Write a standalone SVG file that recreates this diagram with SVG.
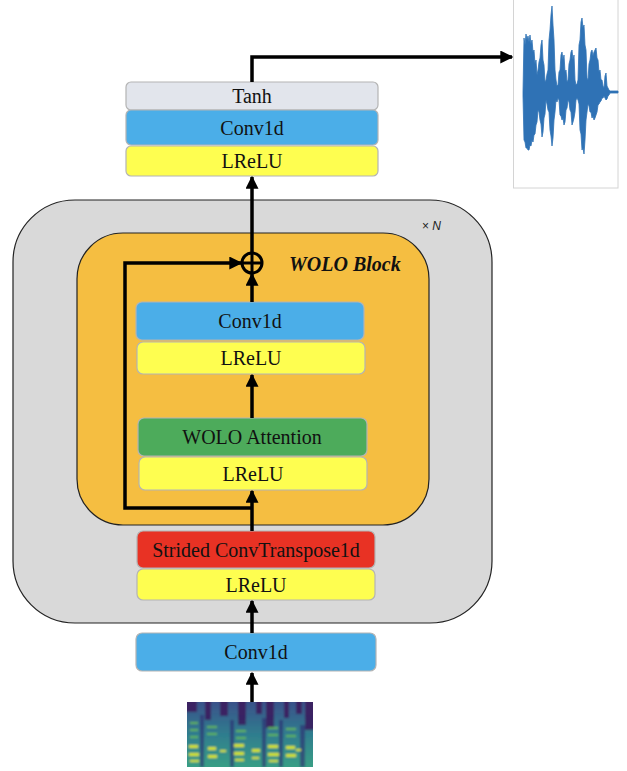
<svg xmlns="http://www.w3.org/2000/svg" width="627" height="771" viewBox="0 0 627 771">
<style>
.box{stroke:#b4b4b4;stroke-width:1.2}
.t{font-family:"Liberation Serif","Times New Roman",serif;font-size:20px;fill:#111;text-anchor:middle;dominant-baseline:central}
.c{fill:none;stroke:#000;stroke-width:3.5}
.tanh{fill:#e2e5ec}.conv{fill:#4baee8}.lrelu{fill:#fefe50}.attn{fill:#4dab5b}.strided{fill:#e83224}
</style>
<defs>
<marker id="ah" viewBox="0 0 10 10" refX="9" refY="5" markerWidth="13" markerHeight="13" markerUnits="userSpaceOnUse" orient="auto">
<path d="M0,0 L10,5 L0,10 z" fill="#000"/>
</marker>
<linearGradient id="spg" x1="0" y1="0" x2="0" y2="1">
<stop offset="0" stop-color="#3b4f8a"/>
<stop offset="0.5" stop-color="#2f7e8e"/>
<stop offset="1" stop-color="#3aa184"/>
</linearGradient>
<clipPath id="spc"><rect x="187" y="702" width="126" height="65"/></clipPath>
<filter id="soft" x="-5%" y="-5%" width="110%" height="110%"><feGaussianBlur stdDeviation="1.1"/></filter>
</defs>

<g id="outer-block">
<rect x="13" y="200" width="479" height="423" rx="62" fill="#d9d9d9" stroke="#222" stroke-width="1.2"/>
<text x="422" y="230" font-family="Liberation Sans,Arial,sans-serif" font-size="12" fill="#222">× <tspan font-style="italic">N</tspan></text>
</g>
<g id="wolo-block">
<rect x="77" y="233" width="352" height="292" rx="46" fill="#f5be41" stroke="#222" stroke-width="1.2"/>
<text x="289" y="271" font-family="Liberation Serif,serif" font-size="20" font-weight="bold" font-style="italic" fill="#111">WOLO Block</text>
</g>

<g id="tanh"><rect class="box tanh" x="126" y="82" width="252" height="28" rx="5"/><text class="t" x="252" y="96">Tanh</text></g>
<g id="conv-out"><rect class="box conv" x="126" y="110" width="252" height="35" rx="5"/><text class="t" x="252" y="128">Conv1d</text></g>
<g id="lrelu-out"><rect class="box lrelu" x="126" y="146" width="252" height="30" rx="5"/><text class="t" x="252" y="161">LReLU</text></g>

<g id="conv-inner"><rect class="box conv" x="136" y="302" width="228" height="38" rx="6"/><text class="t" x="250" y="321">Conv1d</text></g>
<g id="lrelu-inner1"><rect class="box lrelu" x="137" y="342" width="228" height="32" rx="6"/><text class="t" x="251" y="358">LReLU</text></g>
<g id="wolo-attention"><rect class="box attn" x="138" y="418" width="229" height="38" rx="6"/><text class="t" x="252" y="437">WOLO Attention</text></g>
<g id="lrelu-inner2"><rect class="box lrelu" x="139" y="457" width="228" height="33" rx="6"/><text class="t" x="253" y="474">LReLU</text></g>

<g id="strided"><rect class="box strided" x="137" y="531" width="238" height="37" rx="6"/><text class="t" x="256" y="550">Strided ConvTranspose1d</text></g>
<g id="lrelu-strided"><rect class="box lrelu" x="137" y="569" width="238" height="31" rx="6"/><text class="t" x="256" y="585">LReLU</text></g>

<g id="conv-in"><rect class="box conv" x="136" y="633" width="240" height="38" rx="6"/><text class="t" x="256" y="652">Conv1d</text></g>

<g id="add">
<circle cx="252" cy="263" r="10" fill="none" stroke="#000" stroke-width="3"/>
<path d="M242,263 H262 M252,253 V273" stroke="#000" stroke-width="3"/>
</g>

<g id="spectrogram">
<rect x="187" y="702" width="126" height="65" fill="#2f7e8e"/>
<g clip-path="url(#spc)">
<g filter="url(#soft)">
<rect x="185" y="700" width="130" height="70" fill="url(#spg)"/>
<g fill="#3b1459" opacity="0.8">
<rect x="185" y="700" width="12" height="12"/>
<rect x="205" y="700" width="6" height="20"/>
<rect x="220" y="700" width="8" height="16"/>
<rect x="238" y="700" width="8" height="25"/>
<rect x="256" y="700" width="6" height="14"/>
<rect x="266" y="700" width="8" height="28"/>
<rect x="284" y="700" width="5" height="18"/>
<rect x="296" y="700" width="6" height="14"/>
<rect x="305" y="700" width="10" height="30"/>
</g>
<g fill="#2d2a70" opacity="0.6">
<rect x="200" y="715" width="4" height="52"/>
<rect x="230" y="720" width="4" height="47"/>
<rect x="262" y="718" width="4" height="49"/>
<rect x="279" y="720" width="4" height="47"/>
<rect x="300" y="725" width="5" height="42"/>
</g>
<g fill="#6cc24a" opacity="0.8">
<rect x="190" y="722" width="8" height="2"/><rect x="190" y="729" width="8" height="2"/><rect x="190" y="736" width="8" height="2"/>
<rect x="207" y="726" width="10" height="2"/><rect x="207" y="733" width="10" height="2"/><rect x="236" y="730" width="10" height="2"/><rect x="236" y="737" width="10" height="2"/>
<rect x="268" y="727" width="10" height="2"/><rect x="268" y="734" width="10" height="2"/><rect x="286" y="728" width="10" height="2"/><rect x="286" y="735" width="10" height="2"/>
</g>
<g fill="#d2e21b">
<rect x="189" y="745" width="9" height="3"/><rect x="189" y="753" width="10" height="3"/><rect x="190" y="760" width="9" height="2"/>
<rect x="208" y="747" width="8" height="3"/><rect x="208" y="755" width="9" height="3"/>
<rect x="220" y="750" width="6" height="2"/>
<rect x="234" y="744" width="10" height="3"/><rect x="234" y="752" width="10" height="3"/><rect x="235" y="759" width="9" height="2"/>
<rect x="252" y="749" width="8" height="3"/><rect x="252" y="757" width="7" height="2"/>
<rect x="268" y="745" width="10" height="3"/><rect x="268" y="753" width="11" height="3"/><rect x="269" y="760" width="9" height="2"/>
<rect x="286" y="746" width="9" height="3"/><rect x="286" y="754" width="10" height="3"/>
<rect x="296" y="749" width="5" height="2"/>
</g>
</g>
</g>
</g>

<g id="waveform">
<rect x="513.5" y="-1" width="104.5" height="189" fill="#fff" stroke="#d4d4d4" stroke-width="1"/>
<path fill="#2f72b5" stroke="#2f72b5" stroke-width="0.8" stroke-linejoin="round" d="M523,92 L524,38 L525,45 L526,34 L527,40 L528,36 L529,42 L530,35 L531,44 L532,40 L533,52 L534,50 L535,64 L536,60 L537,75 L538,70 L539,62 L540,58 L541,45 L542,40 L543,60 L544,65 L545,82 L546,80 L547,74 L548,70 L549,40 L550,30 L551,15 L552,6 L553,25 L554,40 L555,70 L556,80 L557,86 L558,85 L559,72 L560,70 L561,55 L562,52 L563,60 L564,55 L565,72 L566,70 L567,82 L568,80 L569,64 L570,60 L571,52 L572,50 L573,60 L574,55 L575,80 L576,85 L577,84 L578,80 L579,45 L580,40 L581,22 L582,18 L583,28 L584,25 L585,45 L586,50 L587,78 L588,80 L589,64 L590,60 L591,52 L592,50 L593,56 L594,52 L595,50 L596,48 L597,58 L598,60 L599,72 L600,70 L601,80 L602,80 L603,86 L604,88 L605,76 L606,73 L607,86 L608,88 L609,90 L610,91 L618,91 L618,93 L610,93 L609,95 L608,96 L607,99 L606,100 L605,98 L604,96 L603,98 L602,98 L601,101 L600,102 L599,104 L598,105 L597,112 L596,115 L595,118 L594,120 L593,116 L592,118 L591,112 L590,112 L589,106 L588,104 L587,112 L586,120 L585,140 L584,154 L583,148 L582,150 L581,134 L580,130 L579,104 L578,100 L577,98 L576,100 L575,112 L574,118 L573,122 L572,125 L571,112 L570,110 L569,102 L568,100 L567,108 L566,110 L565,122 L564,125 L563,118 L562,120 L561,116 L560,115 L559,100 L558,98 L557,102 L556,100 L555,112 L554,120 L553,138 L552,146 L551,136 L550,130 L549,112 L548,110 L547,104 L546,100 L545,114 L544,118 L543,132 L542,137 L541,124 L540,120 L539,112 L538,110 L537,122 L536,125 L535,134 L534,135 L533,142 L532,140 L531,146 L530,145 L529,150 L528,150 L527,148 L526,148 L525,142 L524,140 L523,96 Z"/>
</g>

<g id="connectors">
<path class="c" d="M252,702 V673" marker-end="url(#ah)"/>
<path class="c" d="M252,633 V601" marker-end="url(#ah)"/>
<path class="c" d="M252,531 V491" marker-end="url(#ah)"/>
<path class="c" d="M252,508 H125 V263 H241" marker-end="url(#ah)"/>
<path class="c" d="M252,418 V375" marker-end="url(#ah)"/>
<path class="c" d="M252,302 V274" marker-end="url(#ah)"/>
<path class="c" d="M252,253 V177" marker-end="url(#ah)"/>
<path class="c" d="M252,82 V57 H512" marker-end="url(#ah)"/>
</g>
</svg>
